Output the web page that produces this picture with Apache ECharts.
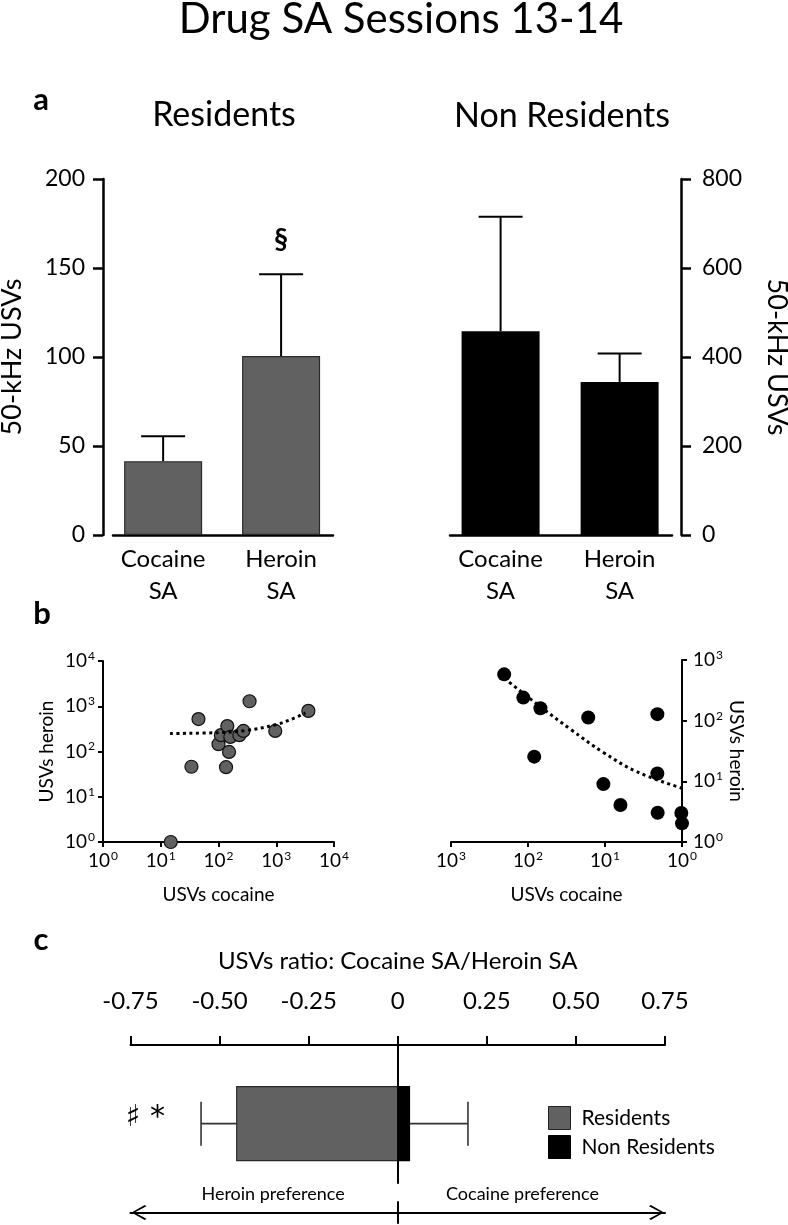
<!DOCTYPE html>
<html>
<head>
<meta charset="utf-8">
<script src="https://cdn.jsdelivr.net/npm/echarts@6/dist/echarts.min.js"></script>
<style>
html,body{margin:0;padding:0;background:#fff}
#chart{width:788px;height:1225px}
</style>
</head>
<body>
<div id="chart"></div>
<script>
// ---------- data ----------
const barCategories = ['Cocaine\nSA', 'Heroin\nSA'];
const residentsMean = [41.5, 100.5];
const residentsSem = [14, 46];
const residentsSig = ['', '§'];
const nonResidentsMean = [458, 344];
const nonResidentsSem = [257, 64];
const nonResidentsSig = ['', ''];

// panel b: [USVs cocaine, USVs heroin]
const residentsUsv = [
  [14.9, 1], [34, 46], [45, 520], [135, 45], [100, 145], [110, 230], [152, 98],
  [142, 365], [160, 210], [230, 230], [270, 285], [345, 1290], [960, 285], [3600, 790]
];
const residentsFit = [[14.5, 250], [100, 262], [300, 292], [1000, 395], [2000, 540], [3200, 715]];
const nonResidentsUsv = [
  [204, 580], [115, 240], [69, 160], [83, 25.5], [16.5, 113], [2.09, 128], [2.09, 13.5],
  [10.5, 9], [6.3, 4.07], [2.07, 3.04], [1.02, 3], [1.0, 2.03]
];
const nonResidentsFit = [[204, 500], [69, 170], [28, 72], [10.5, 30], [3.9, 14.5], [1, 7.7]];

// panel c: USVs ratio (mean, error)
const ratioResidents = [-0.452, 0.100];
const ratioNonResidents = [0.033, 0.164];
const ratioSig = ['\u266F *', ''];
const ratioTickLabels = ['-0.75', '-0.50', '-0.25', '0', '0.25', '0.50', '0.75'];
const preferenceLabels = ['Heroin preference', 'Cocaine preference'];

// ---------- styling / layout ----------
const FONT = 'Lato';
const GREY = '#616161';
const CAP = 22;
const RATIO_ROW = 0.43;
const RATIO_BAR = 74;

const chart = echarts.init(document.getElementById('chart'), null, {renderer: 'canvas'});

function powLabel(v) {
  return '{b|10}{s|' + Math.round(Math.log10(v)) + '}';
}
const powRich = {
  b: {fontSize: 19, fontFamily: FONT, color: '#000', lineHeight: 22},
  s: {fontSize: 12, fontFamily: FONT, color: '#000', verticalAlign: 'top', lineHeight: 22, padding: [0, 0, 0, 1]}
};

function errorBars(sigs) {
  return function (params, api) {
    const x = api.value(0), m = api.value(1), e = api.value(2);
    const p0 = api.coord([x, m]);
    const p1 = api.coord([x, m + e]);
    const st = {stroke: '#000', lineWidth: 2};
    const children = [
      {type: 'line', shape: {x1: p0[0], y1: p0[1], x2: p1[0], y2: p1[1]}, style: st},
      {type: 'line', shape: {x1: p1[0] - CAP, y1: p1[1], x2: p1[0] + CAP, y2: p1[1]}, style: st}
    ];
    const s = sigs[params.dataIndex];
    if (s) {
      children.push({type: 'text', x: p1[0], y: p1[1] - 34,
        style: {text: s, font: 'bold 28px ' + FONT, fill: '#000', align: 'center', verticalAlign: 'middle'}});
    }
    return {type: 'group', children: children};
  };
}

function ratioBar(fill, border, sig) {
  return function (params, api) {
    const m = api.value(0), e = api.value(1);
    const a = api.coord([0, RATIO_ROW]);
    const b = api.coord([m, RATIO_ROW]);
    const c = api.coord([m + Math.sign(m) * e, RATIO_ROW]);
    const half = RATIO_BAR / 2;
    const st = {stroke: '#333', lineWidth: 1.6};
    const children = [
      {type: 'line', shape: {x1: b[0], y1: b[1], x2: c[0], y2: c[1]}, style: st},
      {type: 'line', shape: {x1: c[0], y1: c[1] - CAP, x2: c[0], y2: c[1] + CAP}, style: st},
      {type: 'rect', shape: {x: Math.min(a[0], b[0]), y: a[1] - half, width: Math.abs(b[0] - a[0]), height: RATIO_BAR},
        style: {fill: fill, stroke: border, lineWidth: 1.2}}
    ];
    if (sig) {
      children.push({type: 'text', x: c[0] - 36, y: c[1] - 5,
        style: {text: sig, font: '30px DejaVu Sans', fill: '#000', align: 'right', verticalAlign: 'middle'}});
    }
    return {type: 'group', children: children};
  };
}

const blackLine = (w) => ({color: '#000', width: w});

const option = {
  animation: false,
  backgroundColor: '#fff',
  textStyle: {fontFamily: FONT},
  graphic: [
    {type: 'text', x: 401, y: 19, style: {text: 'Drug SA Sessions 13-14', font: '42px ' + FONT, fill: '#000', align: 'center', verticalAlign: 'middle'}},
    {type: 'text', x: 224, y: 115, style: {text: 'Residents', font: '34px ' + FONT, fill: '#000', align: 'center', verticalAlign: 'middle'}},
    {type: 'text', x: 562, y: 116, style: {text: 'Non Residents', font: '34px ' + FONT, fill: '#000', align: 'center', verticalAlign: 'middle'}},
    {type: 'text', x: 41, y: 100, style: {text: 'a', font: 'bold 31px ' + FONT, fill: '#000', align: 'center', verticalAlign: 'middle'}},
    {type: 'text', x: 42, y: 614, style: {text: 'b', font: 'bold 31px ' + FONT, fill: '#000', align: 'center', verticalAlign: 'middle'}},
    {type: 'text', x: 41, y: 940, style: {text: 'c', font: 'bold 31px ' + FONT, fill: '#000', align: 'center', verticalAlign: 'middle'}}
  ],
  legend: {
    data: [
      {name: 'Residents', itemStyle: {color: GREY, borderColor: '#222', borderWidth: 1}},
      {name: 'Non Residents', itemStyle: {color: '#000', borderColor: '#000', borderWidth: 1}}
    ],
    orient: 'vertical', left: 543, top: 1101, itemWidth: 22, itemHeight: 23, itemGap: 5, icon: 'rect',
    selectedMode: false,
    textStyle: {fontFamily: FONT, fontSize: 21, color: '#000', padding: [0, 0, 0, 6]}
  },
  grid: [
    {left: 113, top: 179, width: 220, height: 356, outerBoundsMode: 'none'},
    {left: 450, top: 179, width: 222, height: 356, outerBoundsMode: 'none'},
    {left: 103, top: 661, width: 231, height: 181, outerBoundsMode: 'none'},
    {left: 451, top: 660, width: 231, height: 182, outerBoundsMode: 'none'},
    {left: 130.5, top: 1045, width: 534.5, height: 138, outerBoundsMode: 'none'},
    {left: 130.5, top: 1202, width: 534.5, height: 21, outerBoundsMode: 'none'}
  ],
  xAxis: [
    {gridIndex: 0, type: 'value', min: -0.425, max: 1.44,
      axisLine: {lineStyle: blackLine(2.5)}, axisTick: {show: false}, splitLine: {show: false},
      axisLabel: {customValues: [0, 1], formatter: v => barCategories[Math.round(v)], fontSize: 24, lineHeight: 32, margin: 8, color: '#000', fontFamily: FONT}},
    {gridIndex: 1, type: 'value', min: -0.425, max: 1.44,
      axisLine: {lineStyle: blackLine(2.5)}, axisTick: {show: false}, splitLine: {show: false},
      axisLabel: {customValues: [0, 1], formatter: v => barCategories[Math.round(v)], fontSize: 24, lineHeight: 32, margin: 8, color: '#000', fontFamily: FONT}},
    {gridIndex: 2, type: 'log', logBase: 10, min: 1, max: 10000,
      axisLine: {lineStyle: blackLine(2)}, axisTick: {length: 5, lineStyle: blackLine(2)}, splitLine: {show: false},
      axisLabel: {formatter: powLabel, rich: powRich, margin: 8},
      name: 'USVs cocaine', nameLocation: 'middle', nameGap: 43, nameTextStyle: {fontSize: 19, color: '#000', fontFamily: FONT}},
    {gridIndex: 3, type: 'log', logBase: 10, min: 1, max: 1000, inverse: true,
      axisLine: {lineStyle: blackLine(2)}, axisTick: {length: 5, lineStyle: blackLine(2)}, splitLine: {show: false},
      axisLabel: {formatter: powLabel, rich: powRich, margin: 8},
      name: 'USVs cocaine', nameLocation: 'middle', nameGap: 43, nameTextStyle: {fontSize: 19, color: '#000', fontFamily: FONT}},
    {gridIndex: 4, type: 'value', position: 'top', min: -0.75, max: 0.75, interval: 0.25,
      axisLine: {onZero: false, lineStyle: blackLine(2)}, axisTick: {length: 9, lineStyle: blackLine(2)}, splitLine: {show: false},
      axisLabel: {formatter: v => ratioTickLabels[Math.round((v + 0.75) / 0.25)], fontSize: 24, margin: 32, color: '#000', fontFamily: FONT},
      name: 'USVs ratio: Cocaine SA/Heroin SA', nameLocation: 'middle', nameGap: 72, nameTextStyle: {fontSize: 24, color: '#000', fontFamily: FONT}},
    {gridIndex: 5, type: 'value', min: -0.75, max: 0.75,
      axisLine: {onZero: true, lineStyle: blackLine(2),
        symbol: ['path://M50,0 L100,88 L92,100 L50,20 L8,100 L0,88 Z', 'path://M50,0 L100,88 L92,100 L50,20 L8,100 L0,88 Z'],
        symbolSize: [15, 17], symbolOffset: [8.5, -8.5]},
      axisTick: {show: false}, splitLine: {show: false},
      axisLabel: {customValues: [-0.35, 0.35], formatter: v => (v < 0 ? preferenceLabels[0] : preferenceLabels[1]), inside: true, margin: 20, fontSize: 18, color: '#000', fontFamily: FONT}}
  ],
  yAxis: [
    {gridIndex: 0, type: 'value', min: 0, max: 200, interval: 50, offset: 10,
      axisLine: {show: true, onZero: false, lineStyle: blackLine(2.5)}, axisTick: {show: true, length: 10, lineStyle: blackLine(2.5)}, splitLine: {show: false},
      axisLabel: {fontSize: 23, margin: 18, color: '#000', fontFamily: FONT},
      name: '50-kHz USVs', nameLocation: 'middle', nameGap: 77, nameTextStyle: {fontSize: 27, color: '#000', fontFamily: FONT}},
    {gridIndex: 1, type: 'value', position: 'right', min: 0, max: 800, interval: 200, offset: 9,
      axisLine: {show: true, onZero: false, lineStyle: blackLine(2.5)}, axisTick: {show: true, length: 10, lineStyle: blackLine(2.5)}, splitLine: {show: false},
      axisLabel: {fontSize: 23, margin: 21, color: '#000', fontFamily: FONT},
      name: '50-kHz USVs', nameLocation: 'middle', nameGap: 82, nameRotate: -90, nameTextStyle: {fontSize: 27, color: '#000', fontFamily: FONT}},
    {gridIndex: 2, type: 'log', logBase: 10, min: 1, max: 10000,
      axisLine: {show: true, lineStyle: blackLine(2)}, axisTick: {show: true, length: 5, lineStyle: blackLine(2)}, splitLine: {show: false},
      axisLabel: {formatter: powLabel, rich: powRich, margin: 8},
      name: 'USVs heroin', nameLocation: 'middle', nameGap: 47, nameTextStyle: {fontSize: 19, color: '#000', fontFamily: FONT}},
    {gridIndex: 3, type: 'log', logBase: 10, min: 1, max: 1000, position: 'right',
      axisLine: {show: true, lineStyle: blackLine(2)}, axisTick: {show: true, length: 5, lineStyle: blackLine(2)}, splitLine: {show: false},
      axisLabel: {formatter: powLabel, rich: powRich, margin: 11},
      name: 'USVs heroin', nameLocation: 'middle', nameGap: 42, nameRotate: -90, nameTextStyle: {fontSize: 19, color: '#000', fontFamily: FONT}},
    {gridIndex: 4, type: 'value', min: 0, max: 1,
      axisLine: {show: true, onZero: true, lineStyle: blackLine(2)}, axisTick: {show: false}, axisLabel: {show: false}, splitLine: {show: false}},
    {gridIndex: 5, type: 'value', min: -1, max: 1,
      axisLine: {show: true, onZero: true, lineStyle: blackLine(2)}, axisTick: {show: false}, axisLabel: {show: false}, splitLine: {show: false}}
  ],
  series: [
    {name: 'Residents USVs', type: 'bar', xAxisIndex: 0, yAxisIndex: 0, barWidth: 78,
      itemStyle: {color: GREY, borderColor: '#2a2a2a', borderWidth: 1.2},
      data: residentsMean.map((m, i) => [i, m])},
    {name: 'Residents SEM', type: 'custom', xAxisIndex: 0, yAxisIndex: 0, z: 1,
      renderItem: errorBars(residentsSig),
      data: residentsMean.map((m, i) => [i, m, residentsSem[i]])},
    {name: 'Non Residents USVs', type: 'bar', xAxisIndex: 1, yAxisIndex: 1, barWidth: 78,
      itemStyle: {color: '#000'},
      data: nonResidentsMean.map((m, i) => [i, m])},
    {name: 'Non Residents SEM', type: 'custom', xAxisIndex: 1, yAxisIndex: 1, z: 1,
      renderItem: errorBars(nonResidentsSig),
      data: nonResidentsMean.map((m, i) => [i, m, nonResidentsSem[i]])},
    {name: 'Residents scatter', type: 'scatter', xAxisIndex: 2, yAxisIndex: 2, symbolSize: 13,
      itemStyle: {color: GREY, borderColor: '#111', borderWidth: 1.2, opacity: 1},
      data: residentsUsv},
    {name: 'Residents fit', type: 'line', xAxisIndex: 2, yAxisIndex: 2, z: 3, showSymbol: false, smooth: 0.4,
      lineStyle: {color: '#000', width: 3, type: [3, 3.5]}, data: residentsFit},
    {name: 'Non Residents scatter', type: 'scatter', xAxisIndex: 3, yAxisIndex: 3, symbolSize: 14,
      itemStyle: {color: '#000', opacity: 1},
      data: nonResidentsUsv},
    {name: 'Non Residents fit', type: 'line', xAxisIndex: 3, yAxisIndex: 3, z: 3, showSymbol: false, smooth: 0.4,
      lineStyle: {color: '#000', width: 3, type: [3, 3.5]}, data: nonResidentsFit},
    {name: 'Residents', type: 'custom', xAxisIndex: 4, yAxisIndex: 4, itemStyle: {color: GREY},
      renderItem: ratioBar(GREY, '#2a2a2a', ratioSig[0]), data: [ratioResidents]},
    {name: 'Non Residents', type: 'custom', xAxisIndex: 4, yAxisIndex: 4, itemStyle: {color: '#000'},
      renderItem: ratioBar('#000', '#000', ratioSig[1]), data: [ratioNonResidents]}
  ]
};
chart.setOption(option);
</script>
</body>
</html>
